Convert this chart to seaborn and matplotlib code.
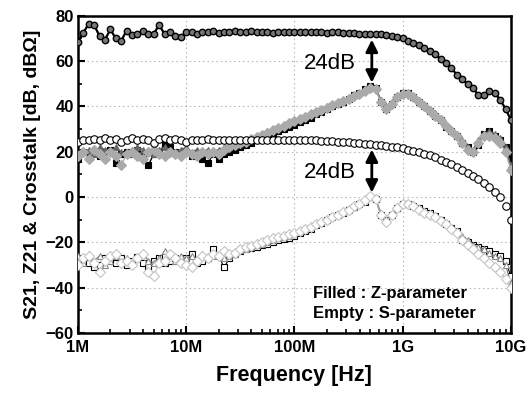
import numpy as np
import pandas as pd
import matplotlib
matplotlib.use("Agg")
import matplotlib.pyplot as plt
import seaborn as sns
from matplotlib.ticker import FixedLocator, LogLocator, NullFormatter, MultipleLocator

# ---------------- data ----------------
freq_hz = np.logspace(6, 10, 81)  # measurement sweep, 20 points / decade

z21_db = [68.5, 72.5, 76.5, 76, 71, 69.5, 74, 70, 69, 73.5,
          71.5, 72, 73.5, 72, 72, 76, 72, 73, 71, 70.5,
          73, 73, 72, 73, 73, 73.5, 72.5, 73, 73, 73.5,
          73, 73, 73.5, 73, 73, 73, 72.5, 73, 73, 73,
          73, 73, 73, 73, 73, 73, 72.5, 73, 73, 72.5,
          72.5, 72.5, 72, 72, 72, 72, 72, 71.5, 71, 70.5,
          70, 69, 68, 67, 66, 64.5, 63, 61, 59, 57,
          54, 52, 50, 48, 45, 45, 47, 46, 43, 39, 34]

s21_db = [24.5, 25, 25, 25.5, 25, 26, 25, 25.5, 24.5, 25,
          26, 25, 25.5, 25, 24, 25.5, 26, 25, 25.5, 25,
          24.5, 25, 25, 25, 25.5, 25, 25, 25, 25, 25,
          25, 25, 25, 25, 25, 25, 25, 25, 25, 25,
          25.2, 25.1, 25, 25, 25, 24.9, 24.8, 24.7, 24.5, 24.4,
          24.2, 24, 23.8, 23.5, 23.3, 23.1, 22.8, 22.5, 22.2, 21.9,
          21.5, 21, 20.5, 19.9, 19.2, 18.4, 17.5, 16.5, 15.5, 14.4,
          13.2, 11.9, 10.5, 9.2, 7.8, 6.2, 4.5, 2.3, 0, -4, -10]

zx_square = [17, 20, 19, 20, 18, 20, 21, 15, 19, 20,
             19, 21, 18, 14, 19, 20, 23, 22, 20, 19,
             20, 18, 19, 17, 15, 19, 17, 19, 20, 21,
             22, 23, 24, 25, 26, 27, 28, 29, 30, 31,
             32, 33, 34, 35, 36.5, 37.5, 39, 40, 41, 42,
             43.5, 45, 46, 47.5, 49, 48, 42, 39, 41, 44,
             46, 46, 44, 42, 40, 38, 36, 34, 31, 29,
             27, 24, 22, 20, 23, 28, 29, 27, 25, 22, 17]

zx_triangle = [19, 20, 21, 19, 22, 21, 20, 22, 20, 19,
               21, 22, 21, 20, 19, 21, 22, 21, 20, 21,
               22, 20, 21, 20, 21, 20, 21, 22, 22, 23,
               24, 25, 26, 27, 28, 29, 30, 31, 32, 33,
               34, 35, 36, 37, 38, 39, 40, 41, 42, 43,
               44, 45, 46, 47.5, 48.5, 48, 43, 40, 42, 45,
               46.5, 46, 44.5, 43, 41, 39, 37, 35, 32, 30,
               28, 25, 22, 21, 25, 28, 29, 28, 26, 22, 14]

zx_diamond = [18, 20, 17, 21, 19, 17, 20, 18, 14, 19,
              20, 18, 17, 20, 21, 19, 18, 20, 19, 18,
              20, 19, 18, 20, 19, 20, 19, 21, 22, 23,
              24, 24.5, 25.5, 26.5, 27.5, 28.5, 29.5, 30.5, 31.5, 32.5,
              33.5, 34.5, 35.5, 36.5, 37.5, 38.5, 39.5, 40.5, 41.5, 42.5,
              43.5, 44.5, 45.5, 47, 48, 47.5, 42, 39, 41, 44,
              45.5, 45.5, 44, 42, 40, 38, 36, 34, 31.5, 29,
              27, 24, 21, 20, 24, 27, 27, 26, 24, 20, 12]

sx_square = [-28, -27, -29, -31, -30, -27, -28, -29, -27, -30,
             -28, -26.5, -29, -31, -28, -27, -29, -28, -27, -28,
             -27, -25, -29, -28, -27, -23, -26, -31, -27, -25,
             -24, -23, -22.5, -22, -21, -20.5, -20, -19, -18.5, -18,
             -17, -16, -15, -14, -12.5, -11.5, -10, -9, -8, -7,
             -5.5, -4.5, -3, -2, 0, -1, -8, -10, -8, -5,
             -3, -3, -4, -5, -6, -7, -8.5, -10, -12, -13.5,
             -15, -19, -20, -21, -22, -23, -24, -25, -26, -28, -35]

sx_triangle = [-26, -29, -25, -28, -26, -30, -28, -26, -28, -27,
               -29, -27, -25, -28, -29, -27, -24, -26, -28, -26,
               -27, -26, -28, -25, -27, -26, -25, -27, -26, -25,
               -23.5, -23, -22, -21, -20.5, -20, -19, -18, -17.5, -17,
               -16, -15, -14, -13, -12, -11, -10, -9, -8, -6.5,
               -5.5, -4.5, -3, -1.5, 0.5, -0.5, -7, -10, -7.5, -4.5,
               -2.5, -2.5, -3.5, -5, -6, -7, -8, -9.5, -11, -13,
               -15, -17, -19, -21, -22, -23, -24.5, -26, -27, -30, -38]

sx_diamond = [-30, -27, -26, -29, -33, -28, -26, -25, -29, -28,
              -30, -27, -25, -33, -35, -29, -28, -25, -27, -29,
              -30, -31, -28, -26, -27, -25, -26, -24, -25, -24.5,
              -23, -22, -21.5, -20.5, -20, -19, -18, -17.5, -17, -16.5,
              -16, -15, -14, -13, -12, -11, -10, -9, -8, -6.5,
              -5.5, -4, -3, -1.5, 0.5, -1, -8, -11, -8, -5,
              -3, -3, -4, -5.5, -7, -8, -9, -10.5, -12, -14,
              -16, -19, -21, -23, -25, -27, -29, -31, -33, -36, -40]

x_ticks = [1e6, 1e7, 1e8, 1e9, 1e10]
x_tick_labels = ["1M", "10M", "100M", "1G", "10G"]
y_ticks = [-60, -40, -20, 0, 20, 40, 60, 80]

# ---------------- style ----------------
sns.set_theme(style="ticks")
plt.rcParams["font.family"] = ["Liberation Sans", "DejaVu Sans"]
plt.rcParams["font.weight"] = "bold"
plt.rcParams["text.color"] = "black"
plt.rcParams["axes.labelcolor"] = "black"
plt.rcParams["xtick.color"] = "black"
plt.rcParams["ytick.color"] = "black"

fig = plt.figure(figsize=(5.30, 3.96), dpi=100)
ax = fig.add_axes([0.147, 0.159, 0.817, 0.801])

def draw(values, marker, color, mfc, mec, ms, lw, mew=0.8, zorder=2):
    df = pd.DataFrame({"f": freq_hz, "v": values})
    sns.lineplot(data=df, x="f", y="v", ax=ax, estimator=None, sort=True,
                 color=color, lw=lw, marker=marker, markersize=ms,
                 markerfacecolor=mfc, markeredgecolor=mec, markeredgewidth=mew,
                 zorder=zorder, legend=False)

# S-parameter crosstalk (empty)
draw(sx_square, "s", "black", "white", "black", 5.0, 0.8, zorder=3)
draw(sx_triangle, "^", "#777777", "white", "#888888", 5.0, 0.8, zorder=3)
draw(sx_diamond, "D", "#bbbbbb", "white", "#c4c4c4", 5.4, 0.8, zorder=3)

# Z-parameter crosstalk (filled)
draw(zx_square, "s", "black", "black", "black", 4.5, 1.0, zorder=4)
draw(zx_triangle, "^", "#666666", "#666666", "#666666", 5.0, 1.0, zorder=4)
draw(zx_diamond, "D", "#aaaaaa", "#aaaaaa", "#aaaaaa", 5.0, 1.0, zorder=4)

# S21 (empty circles)
draw(s21_db, "o", "black", "white", "black", 5.4, 0.0, mew=0.8, zorder=5)

# Z21 (filled circles)
draw(z21_db, "o", "black", "#777777", "black", 4.6, 1.6, mew=1.0, zorder=6)

# ---------------- axes ----------------
ax.set_xscale("log")
ax.set_xlim(1e6, 1e10)
ax.set_ylim(-60, 80)
ax.xaxis.set_major_locator(FixedLocator(x_ticks))
ax.set_xticklabels(x_tick_labels)
ax.xaxis.set_minor_locator(LogLocator(base=10, subs=np.arange(2, 10)))
ax.xaxis.set_minor_formatter(NullFormatter())
ax.yaxis.set_major_locator(FixedLocator(y_ticks))
ax.yaxis.set_minor_locator(MultipleLocator(10))

ax.grid(True, which="major", color="#bbbbbb", linestyle=(0, (1.5, 2.5)), linewidth=0.8)
ax.set_axisbelow(True)

for side in ["left", "right", "top", "bottom"]:
    ax.spines[side].set_visible(True)
    ax.spines[side].set_linewidth(1.8)
    ax.spines[side].set_color("black")

ax.tick_params(which="major", direction="in", length=5, width=1.5,
               labelsize=12, pad=3, colors="black")
ax.tick_params(which="minor", direction="in", length=3, width=1.2, colors="black")
ax.tick_params(axis="x", which="major", pad=5)
for lab in ax.get_xticklabels() + ax.get_yticklabels():
    lab.set_fontweight("bold")
    lab.set_color("black")

ax.set_xlabel("Frequency [Hz]", fontsize=15.5, fontweight="bold", labelpad=7,
              color="black")
ax.set_ylabel("S21, Z21 & Crosstalk [dB, dB\u03a9]", fontsize=14,
              fontweight="bold", labelpad=3, color="black")

# ---------------- annotations ----------------
x_arrow = 10 ** 8.715
ax.annotate("", xy=(x_arrow, 50.5), xytext=(x_arrow, 69.5),
            arrowprops=dict(arrowstyle="<|-|>,head_length=0.6,head_width=0.3",
                            color="black", lw=2, shrinkA=0, shrinkB=0), zorder=7)
ax.annotate("", xy=(x_arrow, 2), xytext=(x_arrow, 21),
            arrowprops=dict(arrowstyle="<|-|>,head_length=0.6,head_width=0.3",
                            color="black", lw=2, shrinkA=0, shrinkB=0), zorder=7)
ax.text(10 ** 8.33, 59, "24dB", fontsize=16, fontweight="normal",
        ha="center", va="center", zorder=7, color="black")
ax.text(10 ** 8.33, 11, "24dB", fontsize=16, fontweight="normal",
        ha="center", va="center", zorder=7, color="black")
ax.text(10 ** 8.17, -42.5, "Filled : Z-parameter", fontsize=12,
        fontweight="bold", ha="left", va="center", zorder=7, color="black")
ax.text(10 ** 8.17, -51.3, "Empty : S-parameter", fontsize=12,
        fontweight="bold", ha="left", va="center", zorder=7, color="black")

fig.savefig("out.png", dpi=100)
